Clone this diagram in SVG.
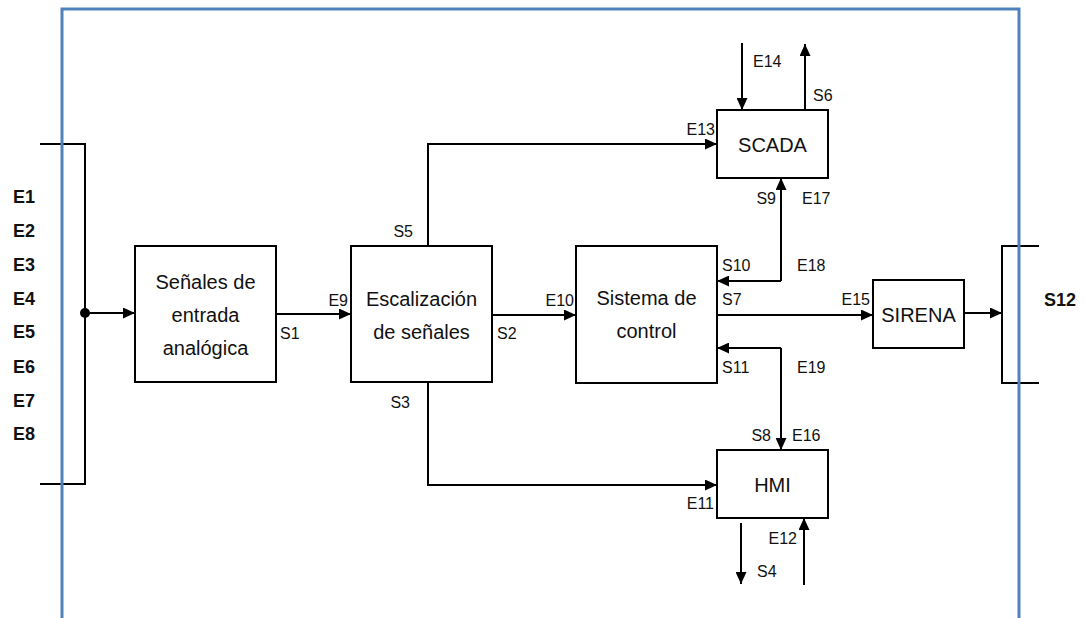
<svg xmlns="http://www.w3.org/2000/svg" width="1086" height="618" viewBox="0 0 1086 618">
<defs>
<marker id="ah" viewBox="0 0 12 11" refX="12" refY="5.5" markerWidth="12" markerHeight="11" markerUnits="userSpaceOnUse" orient="auto">
<path d="M0,0 L12,5.5 L0,11 z" fill="#000"/>
</marker>
</defs>
<style>
.box{fill:#fff;stroke:#000;stroke-width:2}
.ln{fill:none;stroke:#000;stroke-width:2}
.ar{fill:none;stroke:#000;stroke-width:2;marker-end:url(#ah)}
.bt{font-family:"Liberation Sans",Arial,sans-serif;font-size:20px;fill:#111;text-anchor:middle}
.lb{font-family:"Liberation Sans",Arial,sans-serif;font-size:16px;fill:#111}
.bl{font-family:"Liberation Sans",Arial,sans-serif;font-size:18px;font-weight:bold;fill:#111}
.frame{fill:none;stroke:#4f81bd;stroke-width:3}
</style>
<rect width="1086" height="618" fill="#fff"/>

<g id="inputs">
<path class="ln" d="M40,144 L85,144 L85,484 L40,484"/>
<circle cx="85" cy="313" r="5" fill="#000"/>
<text class="bl" x="13" y="203">E1</text>
<text class="bl" x="13" y="237">E2</text>
<text class="bl" x="13" y="271">E3</text>
<text class="bl" x="13" y="305">E4</text>
<text class="bl" x="13" y="338">E5</text>
<text class="bl" x="13" y="373">E6</text>
<text class="bl" x="13" y="407">E7</text>
<text class="bl" x="13" y="440">E8</text>
</g>

<g id="senales">
<rect class="box" x="135" y="246" width="141" height="136"/>
<text class="bt" x="205.5" y="289">Señales de</text>
<text class="bt" x="205.5" y="322">entrada</text>
<text class="bt" x="205.5" y="355">analógica</text>
</g>

<g id="escalizacion">
<rect class="box" x="351" y="246" width="141" height="136"/>
<text class="bt" x="421.5" y="306">Escalización</text>
<text class="bt" x="421.5" y="339">de señales</text>
</g>

<g id="sistema">
<rect class="box" x="576" y="246" width="141" height="137"/>
<text class="bt" x="646.5" y="305">Sistema de</text>
<text class="bt" x="646.5" y="338">control</text>
</g>

<g id="scada">
<rect class="box" x="717" y="110" width="111" height="68"/>
<text class="bt" x="772.5" y="152">SCADA</text>
</g>

<g id="hmi">
<rect class="box" x="717" y="450" width="111" height="68"/>
<text class="bt" x="772.5" y="492">HMI</text>
</g>

<g id="sirena">
<rect class="box" x="873" y="280" width="91" height="68"/>
<text class="bt" x="918.5" y="322">SIRENA</text>
</g>

<g id="outputs">
<path class="ln" d="M1039,246 L1002,246 L1002,383 L1039,383"/>
<text class="bl" x="1044" y="306">S12</text>
</g>

<g id="connectors">
<path class="ar" d="M85,313 L135,313"/>
<path class="ar" d="M276,314 L351,314"/>
<path class="ar" d="M492,315 L576,315"/>
<path class="ar" d="M428,246 L428,144 L717,144"/>
<path class="ar" d="M428,382 L428,485 L717,485"/>
<path class="ar" d="M742,43 L742,110"/>
<path class="ar" d="M805,110 L805,44"/>
<path class="ar" d="M781,281 L781,178"/>
<path class="ar" d="M781,281 L717,281"/>
<path class="ar" d="M717,315 L873,315"/>
<path class="ar" d="M781,348 L717,348"/>
<path class="ar" d="M781,348 L781,450"/>
<path class="ar" d="M741,523 L741,584"/>
<path class="ar" d="M804,585 L804,518"/>
<path class="ar" d="M964,313 L1002,313"/>
</g>

<g id="labels">
<text class="lb" x="348" y="306" text-anchor="end">E9</text>
<text class="lb" x="280" y="339">S1</text>
<text class="lb" x="574" y="306" text-anchor="end">E10</text>
<text class="lb" x="497" y="339">S2</text>
<text class="lb" x="413" y="237" text-anchor="end">S5</text>
<text class="lb" x="410" y="408" text-anchor="end">S3</text>
<text class="lb" x="715" y="135" text-anchor="end">E13</text>
<text class="lb" x="753" y="67">E14</text>
<text class="lb" x="813" y="101">S6</text>
<text class="lb" x="776" y="204" text-anchor="end">S9</text>
<text class="lb" x="802" y="204">E17</text>
<text class="lb" x="722" y="271">S10</text>
<text class="lb" x="797" y="271">E18</text>
<text class="lb" x="722" y="305">S7</text>
<text class="lb" x="870" y="305" text-anchor="end">E15</text>
<text class="lb" x="722" y="373">S11</text>
<text class="lb" x="797" y="373">E19</text>
<text class="lb" x="771" y="441" text-anchor="end">S8</text>
<text class="lb" x="792" y="441">E16</text>
<text class="lb" x="714" y="509" text-anchor="end">E11</text>
<text class="lb" x="797" y="544" text-anchor="end">E12</text>
<text class="lb" x="757" y="577">S4</text>
</g>

<path class="frame" d="M62,618 L62,9 L1019,9 L1019,618"/>
</svg>
